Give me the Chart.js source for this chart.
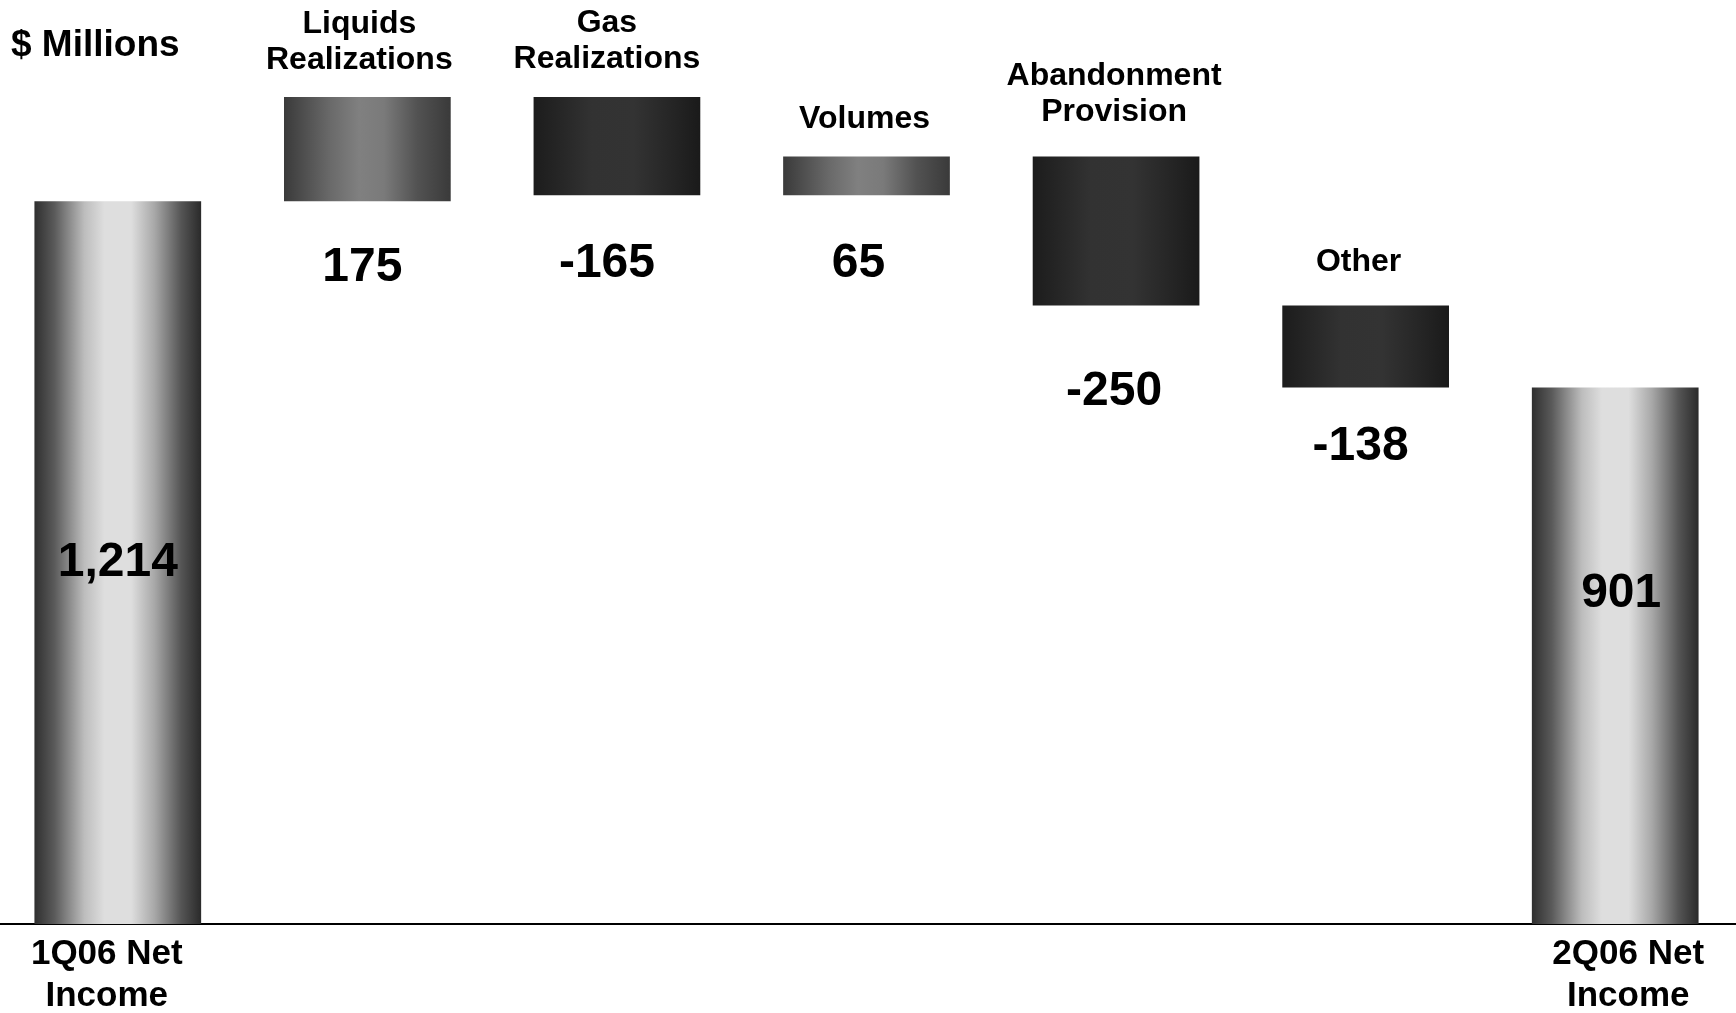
<!DOCTYPE html>
<html>
<head>
<meta charset="utf-8">
<script src="https://cdn.jsdelivr.net/npm/chart.js@4.4.1/dist/chart.umd.min.js"></script>
<style>
  html, body { margin: 0; padding: 0; background: #fff; overflow: hidden; }
  #wrap { position: absolute; left: -7px; top: 0; width: 1747px; height: 1013px; }
</style>
</head>
<body>
<div id="wrap"><canvas id="myChart"></canvas></div>
<script>
// data
const categories = [
  ["1Q06 Net", "Income"],
  ["Liquids", "Realizations"],
  ["Gas", "Realizations"],
  ["Volumes"],
  ["Abandonment", "Provision"],
  ["Other"],
  ["2Q06 Net", "Income"]
];
const kinds = ["total", "up", "down", "up", "down", "down", "total"];
const values = [1214, 175, -165, 65, -250, -138, 901];
const valueLabels = ["1,214", "175", "-165", "65", "-250", "-138", "901"];

// label nudges (px)
// values: below the bar for changes, from bar middle for totals
const valueLabelDx = [0, -5, -10, -8, -2, -5, 6];
const valueLabelDy = [0, 67, 68, 68, 86, 59, -62];
// category names: gap above the bar top (changes), x shift
const nameGap = [0, 37, 38, 37, 44, 43, 0];
const nameDx = [-11, -8, -10, -2, -2, -7, 13];
const FONT = "'Liberation Sans', Arial, sans-serif";

// floating bars from the running total
const bars = [];
let running = 0;
values.forEach((v, i) => {
  if (kinds[i] === "total") {
    bars.push([0, v]);
    running = v;
  } else {
    bars.push([running, running + v]);
    running += v;
  }
});

const stopsFor = {
  total: [[0, "#2f2f2f"], [0.12, "#5a5a5a"], [0.3, "#bdbdbd"], [0.42, "#dedede"], [0.58, "#dedede"], [0.72, "#a8a8a8"], [0.88, "#555555"], [1, "#2a2a2a"]],
  up: [[0, "#3a3a3a"], [0.28, "#6a6a6a"], [0.45, "#808080"], [0.6, "#7a7a7a"], [0.8, "#525252"], [1, "#3a3a3a"]],
  down: [[0, "#1c1c1c"], [0.35, "#323232"], [0.6, "#333333"], [0.85, "#242424"], [1, "#1a1a1a"]]
};
const barPct = 0.668;

function barGradient(context) {
  const chart = context.chart;
  const { ctx, chartArea, scales } = chart;
  const i = context.dataIndex;
  if (i === undefined) return "#555";
  const stops = stopsFor[kinds[i]];
  if (!chartArea || !scales.x) return stops[2][1];
  const cx = scales.x.getPixelForValue(i);
  const half = (chartArea.width / categories.length) * barPct / 2;
  const g = ctx.createLinearGradient(cx - half, 0, cx + half, 0);
  stops.forEach(s => g.addColorStop(s[0], s[1]));
  return g;
}

// texts: category names, values, "$ Millions"
const textPlugin = {
  id: "texts",
  afterDatasetsDraw(chart) {
    const { ctx, scales } = chart;
    const meta = chart.getDatasetMeta(0);
    ctx.save();
    ctx.fillStyle = "#000";
    ctx.textAlign = "left";
    ctx.textBaseline = "middle";
    ctx.font = "bold 37px " + FONT;
    ctx.fillText("$ Millions", 18, 46);

    ctx.textAlign = "center";
    meta.data.forEach((bar, i) => {
      const p = bar.getProps(["x", "y", "base"], true);
      const top = Math.min(p.y, p.base);
      const bottom = Math.max(p.y, p.base);
      const lines = categories[i];

      // value label
      ctx.font = "bold 48px " + FONT;
      if (kinds[i] === "total") {
        ctx.fillText(valueLabels[i], p.x + valueLabelDx[i], (top + bottom) / 2 + valueLabelDy[i]);
      } else {
        ctx.fillText(valueLabels[i], p.x + valueLabelDx[i], bottom + valueLabelDy[i]);
      }

      // category name
      if (kinds[i] === "total") {
        ctx.font = "bold 35px " + FONT;
        const base = scales.y.getPixelForValue(0);
        lines.forEach((t, k) => ctx.fillText(t, p.x + nameDx[i], base + 30 + k * 42));
      } else {
        ctx.font = "bold 32px " + FONT;
        const n = lines.length;
        lines.forEach((t, k) => ctx.fillText(t, p.x + nameDx[i], top - nameGap[i] - (n - 1 - k) * 36));
      }
    });
    ctx.restore();
  }
};

const config = {
  type: "bar",
  data: {
    labels: categories,
    datasets: [{
      data: bars,
      backgroundColor: barGradient,
      borderWidth: 0,
      barPercentage: barPct,
      categoryPercentage: 1
    }]
  },
  options: {
    responsive: true,
    maintainAspectRatio: false,
    animation: false,
    layout: { padding: 0 },
    plugins: {
      legend: { display: false },
      tooltip: { enabled: false },
      title: { display: false }
    },
    scales: {
      x: {
        display: true,
        grid: { display: false, drawTicks: false },
        ticks: { display: false },
        border: { display: true, color: "#000", width: 2 },
        afterFit(scale) { scale.height = 89; }
      },
      y: {
        display: false,
        min: 0,
        max: 1552
      }
    }
  },
  plugins: [textPlugin]
};

const ctx = document.getElementById("myChart").getContext("2d");
const chart = new Chart(ctx, config);
</script>
</body>
</html>
